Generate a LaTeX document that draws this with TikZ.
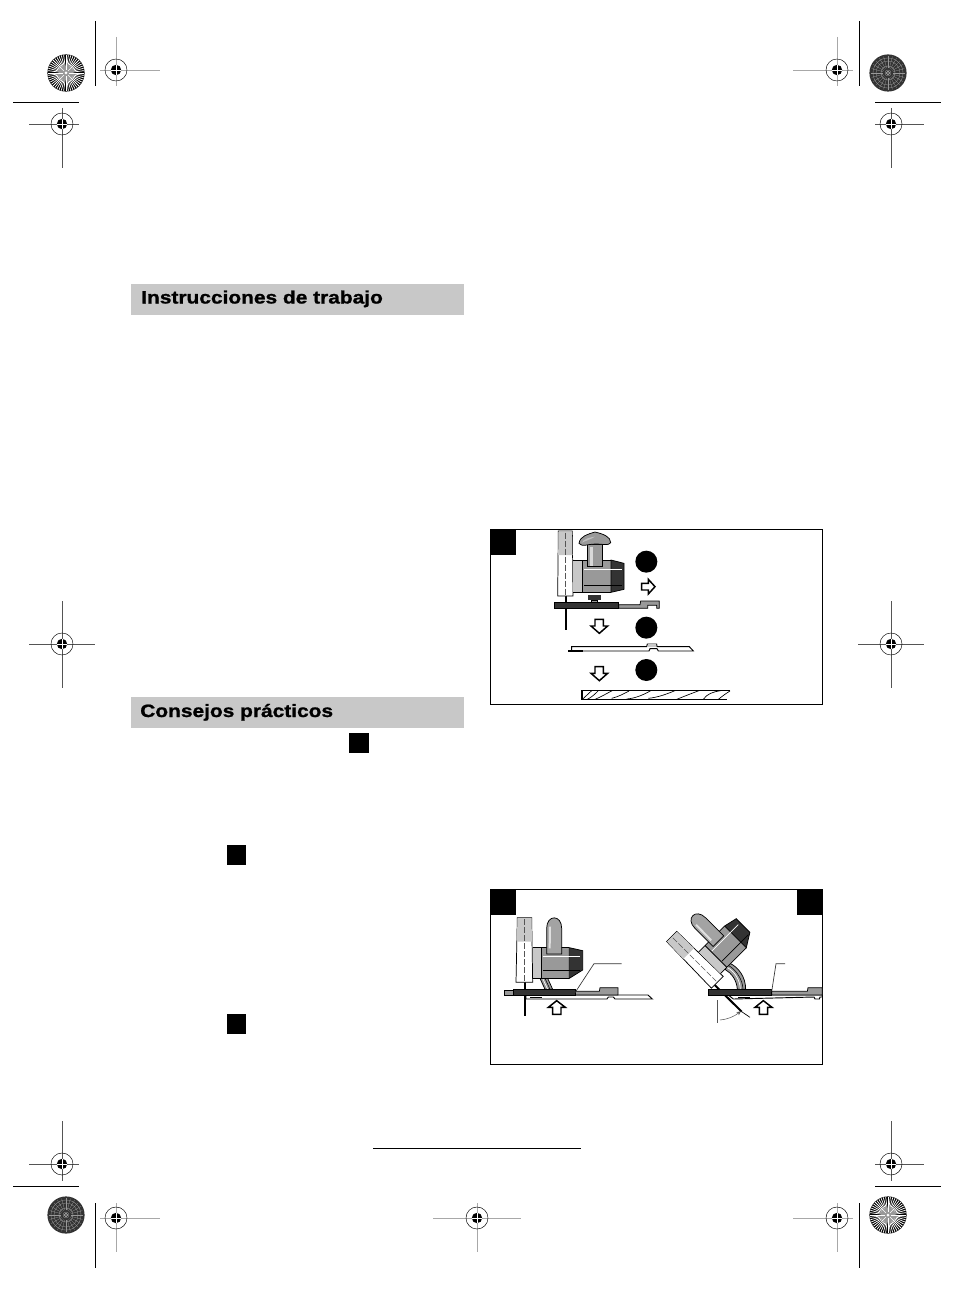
\documentclass[tikz,border=0pt]{standalone}
\usepackage{fontspec}
\usetikzlibrary{arrows.meta}
\setmainfont{Liberation Sans}
\newfontfamily\headfont[FakeStretch=1.17,FakeBold=1.2]{Liberation Sans Bold}
\definecolor{bandgray}{HTML}{C8C8C8}
\definecolor{midgray}{HTML}{999999}
\definecolor{deepgray}{HTML}{333333}
\definecolor{armlight}{HTML}{A8A8A8}
\definecolor{armdark}{HTML}{555555}
\tikzset{
  band/.style={fill=bandgray,draw=none},
  headtext/.style={anchor=base west,inner sep=0pt,font=\headfont\fontsize{13.4pt}{15pt}\selectfont},
  frame/.style={draw=black,line width=.7pt,fill=white},
  tag/.style={fill=black,draw=none},
  outl/.style={draw=black,line width=.55pt},
  blockarrow/.style={draw=black,fill=white,line width=1.1pt,miter limit=5},
  leader/.style={draw=deepgray,line width=.5pt},
  crop/.style={draw=black,line width=.6pt},
  guarddash/.style={draw=armdark,line width=.5pt,dash pattern=on 4.5pt off 1.5pt}
}
% registration mark: x,y,left,right,up,down,colour
\newcommand{\regmk}[7]{%
  \draw[#7,line width=.5pt] (#1-#3,#2)--(#1+#4,#2) (#1,#2-#5)--(#1,#2+#6);
  \draw[black,line width=.35pt] (#1,#2) circle[radius=11];
  \fill[black] (#1,#2) circle[radius=5.2];
  \draw[white,line width=.45pt] (#1-5.4,#2)--(#1+5.4,#2) (#1,#2-5.4)--(#1,#2+5.4);
}
\newcommand{\burstlight}[2]{%
  \fill[black] (#1,#2) circle[radius=18.6];
  \foreach \a in {0,7.5,...,352.5}{
    \draw[white,line width=.55pt] (#1,#2)++(\a:6.5)--++(\a:11.7);
  }
  \fill[midgray] (#1,#2) circle[radius=7.5];
  \foreach \a in {0,45,...,315}{\draw[white,line width=.3pt] (#1,#2)++(\a:3)--++(\a:6);}
  \fill[white] (#1,#2) circle[radius=1.5];
}
\newcommand{\burstdark}[2]{%
  \fill[deepgray] (#1,#2) circle[radius=18.6];
  \foreach \a in {0,15,...,345}{
    \draw[midgray,line width=.2pt] (#1,#2)++(\a:5)--++(\a:12);
  }
  \foreach \r in {3,7,12,15}{\draw[midgray,line width=.25pt] (#1,#2) circle[radius=\r];}
  \draw[white,line width=.3pt] (#1,#2) circle[radius=1.6];
}
% saw of figure 2, in 3x zoom coordinates
\newcommand{\sawtwo}{%
  \draw[outl,fill=white] (112,113)--(155,113)--(158,307)--(108,307)--cycle;
  \fill[bandgray] (112.5,114)--(154.5,114)--(156,185)--(110.5,185)--cycle;
  \draw[guarddash] (133,118)--(133,302);
  \fill[bandgray] (158,203)--(185,203)--(185,295)--(158,295)--cycle;
  \fill[midgray] (185,203)--(268,203)--(268,295)--(185,295)--cycle;
  \draw[outl] (158,203)--(268,203) (158,295)--(268,295) (185,203)--(185,295);
  \draw[outl,fill=deepgray] (268,203)--(308,212)--(308,270)--(268,295)--cycle;
  \draw[white,line width=.55pt] (188,229)--(300,229);
  \draw[black,line width=.55pt] (188,272)--(300,272);
  \draw[outl,fill=midgray!90!white] (200,222)--(200,145) .. controls (200,103) and (245,103) .. (245,145)--(245,222)--cycle;
  \fill[white!88!black] (207,140)--(213,140)--(212,205)--(206,205)--cycle;
}
\begin{document}
\begin{tikzpicture}[x=.75pt,y=-.75pt]
\useasboundingbox (0,0) rectangle (954,1291);
\fill[white] (0,0) rectangle (954,1291);
% crop lines
\draw[crop] (95,21)--(95,86) (13,102)--(79,102) (859,21)--(859,86) (875,102)--(941,102);
\draw[crop] (13,1186)--(79,1186) (95,1203)--(95,1268) (859,1203)--(859,1268) (875,1186)--(941,1186);
\draw[black,line width=.6pt] (373,1148)--(581,1148);
% registration marks
\regmk{116}{70}{16}{44}{33}{16}{armlight}
\regmk{62}{124}{33}{17}{16}{44}{armdark}
\regmk{837}{70}{44}{16}{33}{16}{armlight}
\regmk{891}{124}{16}{33}{16}{44}{armdark}
\regmk{62}{644}{33}{33}{43}{44}{armdark}
\regmk{891}{644}{33}{33}{43}{44}{armdark}
\regmk{62}{1164}{33}{17}{43}{17}{armdark}
\regmk{891}{1164}{16}{33}{43}{17}{armdark}
\regmk{116}{1218}{16}{44}{15}{34}{armlight}
\regmk{477}{1218}{44}{44}{15}{34}{armlight}
\regmk{837}{1218}{44}{16}{15}{34}{armlight}
\burstlight{66}{73}
\burstdark{888}{73}
\burstdark{66}{1215}
\burstlight{888}{1215}
% headers
\fill[band] (131,284) rectangle (464,315);
\node[headtext] (headA) at (141,303.5) {Instrucciones de trabajo};
\fill[band] (131,697) rectangle (464,728);
\node[headtext] (headB) at (140,717) {Consejos prácticos};
\fill[tag] (349,733) rectangle (369,753);
\fill[tag] (227,845) rectangle (246,865);
\fill[tag] (227,1014) rectangle (246,1034);
% figure frames
\draw[frame] (490.5,529.5) rectangle (822.5,704.5);
\fill[tag] (491,530) rectangle (516,555);
\draw[frame] (490.5,889.5) rectangle (822.5,1064.5);
\fill[tag] (491,890) rectangle (516,915);
\fill[tag] (797,890) rectangle (822,915);
% ---------- figure 1 ----------
\begin{scope}[shift={(480,520)},x=.25pt,y=-.25pt]
  \draw[black,line width=1.5pt] (257,228)--(257,330);
  \draw[outl,fill=white] (235,33)--(277,33)--(279,228)--(233,228)--cycle;
  \fill[bandgray] (235.5,34)--(276.5,34)--(277.5,105)--(234.5,105)--cycle;
  \draw[guarddash] (257,38)--(257,224);
  \fill[bandgray] (279,122)--(308,122)--(308,217)--(279,217)--cycle;
  \fill[midgray] (308,122)--(393,122)--(393,217)--(308,217)--cycle;
  \draw[outl] (279,122)--(393,122) (279,217)--(393,217) (308,122)--(308,217);
  \draw[outl,fill=deepgray] (393,120)--(432,130)--(432,208)--(393,217)--cycle;
  \draw[white,line width=.55pt] (312,148)--(426,148);
  \draw[black,line width=.55pt] (312,196)--(426,196);
  \draw[outl,fill=midgray] (322,72)--(322,138)--(368,138)--(368,72)--cycle;
  \fill[white!85!black] (329,80)--(339,80)--(339,138)--(329,138)--cycle;
  \draw[outl,fill=midgray] (297,70) .. controls (300,48) and (325,42) .. (345,36) .. controls (370,42) and (392,50) .. (392,68) .. controls (385,78) and (372,72) .. (345,72) .. controls (325,72) and (305,82) .. (297,70)--cycle;
  \fill[white!75!black] (305,68) .. controls (312,56) and (330,52) .. (345,50) .. controls (332,58) and (318,62) .. (305,68)--cycle;
  \fill[deepgray] (325,226) rectangle (362,240);
  \draw[outl,fill=midgray] (335,240) rectangle (352,246);
  \draw[outl,fill=midgray] (416,254)--(480,254)--(482,243)--(538,243)--(538,265)--(530,265)--(530,256)--(503,256)--(503,265)--(416,265)--cycle;
  \draw[outl,fill=deepgray] (223,247) rectangle (416,265);
  \draw[blockarrow] (485,190)--(505,190)--(505,178)--(525,200)--(505,222)--(505,210)--(485,210)--cycle;
  \draw[blockarrow] (345,298)--(370,298)--(370,318)--(383,318)--(358,340)--(333,318)--(345,318)--cycle;
  \draw[blockarrow] (345,440)--(370,440)--(370,460)--(383,460)--(358,482)--(333,460)--(345,460)--cycle;
  \draw[outl,line width=.7pt,fill=white] (275,393)--(275,380)--(500,380)--(502,372)--(530,372)--(531,380)--(628,380)--(640,393)--(535,393)--(531,386)--(510,386)--(507,393)--cycle;
  \fill[bandgray] (504,373) rectangle (529,380);
  \draw[black,line width=1.2pt] (265,393)--(308,393);
  % numbered discs
  \fill[black] (499,125) circle[radius=33];
  \fill[black] (499,323) circle[radius=33];
  \fill[black] (499,450) circle[radius=33];
  % wood
  \draw[outl,line width=.8pt] (750,511)--(306,511)--(306,539)--(740,539);
  \draw[black,line width=.5pt] (306,539)--(335,512) (320,539) .. controls (335,532) and (345,522) .. (355,512)
    (345,538) .. controls (365,530) and (380,520) .. (397,512)
    (395,535) .. controls (415,530) and (430,522) .. (447,513)
    (440,537) .. controls (465,535) and (490,525) .. (512,512)
    (505,535) .. controls (535,532) and (560,522) .. (585,512)
    (590,538) .. controls (610,530) and (635,520) .. (657,512)
    (670,538) .. controls (680,522) and (700,515) .. (722,512)
    (715,538) .. controls (725,530) and (738,520) .. (750,513);
\end{scope}
% ---------- figure 2 ----------
\begin{scope}[shift={(480,880)},x=.25pt,y=-.25pt]
  % left saw
  \draw[black,line width=1.5pt] (134,307)--(134,407);
  \draw[outl,fill=midgray] (180,295)--(195,328)--(218,328)--(203,295)--cycle;
  \draw[white,line width=.5pt] (188,295)--(203,328);
  \draw[outl,line width=.4pt] (195,295)--(210,328);
  \sawtwo
  \draw[outl,fill=midgray] (74,332) rectangle (100,345);
  \draw[outl,line width=.7pt,fill=white] (138,345)--(504,345)--(517,357)--(405,357)--(400,351)--(385,351)--(381,357)--(138,357)--cycle;
  \draw[black,line width=1pt] (150,353)--(185,353);
  \draw[outl,fill=midgray] (285,334)--(358,334)--(360,323)--(414,323)--(414,345)--(285,345)--cycle;
  \draw[outl,fill=deepgray] (100,327) rectangle (285,345);
  \draw[leader] (285,338)--(342,251)--(425,251);
  \draw[blockarrow] (218,403)--(243,403)--(243,382)--(256,382)--(230,362)--(205,382)--(218,382)--cycle;
  % right saw
  \draw[black,line width=1.5pt] (697,308)--(785,395);
  \draw[black,line width=.5pt] (785,395)--(810,412);
  \draw[outl,fill=midgray] (735,268) .. controls (755,280) and (770,300) .. (772,328)--(797,328) .. controls (797,290) and (775,262) .. (750,250)--cycle;
  \draw[white,line width=.5pt] (741,262) .. controls (765,275) and (780,300) .. (781,328);
  \draw[outl,line width=.4pt] (745,256) .. controls (770,270) and (788,300) .. (789,328);
  \begin{scope}[shift={(712,307)},rotate=45,shift={(-133,-307)}]
    \sawtwo
  \end{scope}
  \draw[outl,line width=.7pt,fill=white] (745,345)--(1027,345)--(1027,351)--(1020,351)--(1018,357)--(1005,357)--(1002,351)--(760,357)--cycle;
  \draw[black,line width=1pt] (775,353)--(810,353);
  \draw[outl,fill=midgray] (875,334)--(982,334)--(984,323)--(1027,323)--(1027,345)--(875,345)--cycle;
  \draw[outl,fill=deepgray] (685,327) rectangle (875,345);
  \draw[leader] (875,335)--(888,251)--(915,251);
  \draw[blockarrow] (838,403)--(863,403)--(863,382)--(876,382)--(850,362)--(825,382)--(838,382)--cycle;
  \draw[armdark,line width=.4pt] (712,360)--(712,428);
  \draw[armdark,line width=.4pt,-{Stealth[length=3pt,width=3pt]}] (720,420) .. controls (742,418) and (762,410) .. (782,394);
\end{scope}
\end{tikzpicture}
\end{document}
